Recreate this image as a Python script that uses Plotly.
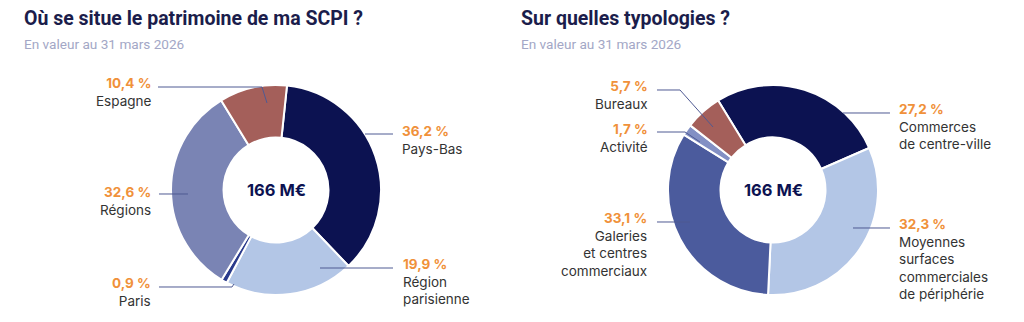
import plotly.graph_objects as go

W, H = 1024, 322

# ---------------- data ----------------
geo_labels = ["Pays-Bas", "Région parisienne", "Paris", "Régions", "Espagne"]
geo_values = [36.2, 19.9, 0.9, 32.6, 10.4]
geo_pct_text = ["36,2 %", "19,9 %", "0,9 %", "32,6 %", "10,4 %"]
geo_names = ["Pays-Bas", "Région<br>parisienne", "Paris", "Régions", "Espagne"]

typo_labels = ["Commerces de centre-ville", "Moyennes surfaces commerciales de périphérie",
               "Galeries et centres commerciaux", "Activité", "Bureaux"]
typo_values = [27.2, 32.3, 33.1, 1.7, 5.7]
typo_pct_text = ["27,2 %", "32,3 %", "33,1 %", "1,7 %", "5,7 %"]
typo_names = ["Commerces<br>de centre-ville", "Moyennes<br>surfaces<br>commerciales<br>de périphérie",
              "Galeries<br>et centres<br>commerciaux", "Activité", "Bureaux"]

total_text = "166 M€"
titles = ["Où se situe le patrimoine de ma SCPI ?", "Sur quelles typologies ?"]
subtitle = "En valeur au 31 mars 2026"

# ---------------- styles ----------------
NAVY = "#0c1251"
LIGHT = "#b3c6e6"
geo_colors = [NAVY, LIGHT, "#2a3a8c", "#7a84b4", "#a45f5a"]
typo_colors = [NAVY, LIGHT, "#4b5b9d", "#8390c4", "#a45f5a"]
ORANGE = "#f0913a"
TXT = "#333333"
LINE = "#4f5a93"
TITLE_C = "#1b1d4b"
SUB_C = "#a3a7c6"
LABEL_FONT = "Inter, 'Liberation Sans', Arial, sans-serif"
TITLE_FONT = "Roboto, 'Liberation Sans', sans-serif"

def px(x):
    return x / W

def py(y):
    return 1 - y / H

# pie geometry (pixels): center and radius
pies = [
    dict(cx=276, cy=190, r=105, rot=6, values=geo_values, labels=geo_labels, colors=geo_colors),
    dict(cx=773, cy=190, r=105, rot=-31.5, values=typo_values, labels=typo_labels, colors=typo_colors),
]

fig = go.Figure()
for p in pies:
    fig.add_trace(go.Pie(
        values=p["values"], labels=p["labels"], sort=False, direction="clockwise",
        rotation=p["rot"], hole=0.5, textinfo="none", showlegend=False,
        marker=dict(colors=p["colors"], line=dict(color="white", width=2)),
        domain=dict(x=[px(p["cx"] - p["r"]), px(p["cx"] + p["r"])],
                    y=[py(p["cy"] + p["r"]), py(p["cy"] - p["r"])]),
        hovertemplate="%{label}: %{value} %<extra></extra>",
    ))

annotations = []
# titles
for tx, title in zip([22, 519], titles):
    annotations.append(dict(x=px(tx), y=py(18), xref="paper", yref="paper", xanchor="left",
                            yanchor="middle", showarrow=False, text="<b>" + title + "</b>",
                            font=dict(family=TITLE_FONT, size=19.5, color=TITLE_C)))
    annotations.append(dict(x=px(tx), y=py(44), xref="paper", yref="paper", xanchor="left",
                            yanchor="middle", showarrow=False, text=subtitle,
                            font=dict(family=TITLE_FONT, size=13.6, color=SUB_C)))
# center totals
for p in pies:
    annotations.append(dict(x=px(p["cx"]), y=py(p["cy"]), xref="paper", yref="paper",
                            xanchor="center", yanchor="middle",
                            showarrow=False, text="<b>" + total_text + "</b>",
                            font=dict(family=LABEL_FONT, size=16.5, color=NAVY)))

# label placement (pixels): anchor x, top y, side
geo_pos = [(400, 121, "left"), (401, 254, "left"), (153, 273, "right"), (153, 182, "right"), (153, 73, "right")]
typo_pos = [(897, 99, "left"), (897, 214, "left"), (649, 208, "right"), (650, 119, "right"), (650, 76, "right")]

for pcts, names, pos in [(geo_pct_text, geo_names, geo_pos), (typo_pct_text, typo_names, typo_pos)]:
    for pct, name, (x, y, side) in zip(pcts, names, pos):
        annotations.append(dict(
            x=px(x), y=py(y), xref="paper", yref="paper", xanchor=side, yanchor="top",
            align=side, showarrow=False,
            text=f"<b><span style='color:{ORANGE}'>{pct}</span></b><br>{name}",
            font=dict(family=LABEL_FONT, size=13.5, color=TXT)))

# leader lines (pixels)
leaders = [
    [(158, 87), (262, 87), (267, 103)],
    [(365, 134), (393, 134)],
    [(320, 268), (393, 268)],
    [(159, 194), (188, 194)],
    [(159, 287), (232, 287), (234, 284)],
    [(657, 90), (680, 90), (713, 127)],
    [(657, 132), (685, 132), (700, 142)],
    [(657, 222), (690, 222)],
    [(843, 113), (890, 113)],
    [(853, 228), (890, 228)],
]
shapes = []
for pts in leaders:
    path = "M " + " L ".join(f"{px(a):.5f},{py(b):.5f}" for a, b in pts)
    shapes.append(dict(type="path", path=path, xref="paper", yref="paper",
                       line=dict(color=LINE, width=1), layer="above"))

fig.update_layout(
    width=W, height=H, margin=dict(l=0, r=0, t=0, b=0),
    paper_bgcolor="white", plot_bgcolor="white",
    annotations=annotations, shapes=shapes,
)

fig.write_html("out.html", config={"displayModeBar": False})
